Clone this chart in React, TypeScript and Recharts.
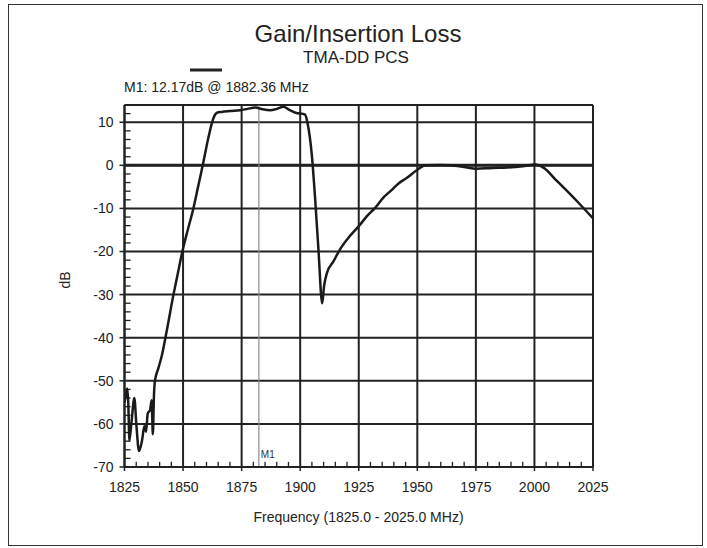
import React from 'react';
import { LineChart, Line, XAxis, YAxis, CartesianGrid, ReferenceLine } from 'recharts';

const freqs = [
  1825.0, 1825.5, 1826.2, 1826.6, 1827.1, 1828.0, 1829.2, 1830.1, 1831.2, 1832.5,
  1833.5, 1834.2, 1834.9, 1835.9, 1836.6, 1837.1, 1837.6, 1838.0, 1839.5, 1841.0,
  1843.0, 1845.9, 1847.8, 1849.7, 1852.0, 1854.4, 1856.4, 1858.4, 1860.8, 1863.0,
  1864.5, 1866.5, 1870.0, 1874.4, 1877.5, 1880.8, 1884.0, 1887.2, 1890.0, 1892.9,
  1895.0, 1898.0, 1902.0, 1903.1, 1905.0, 1906.4, 1907.8, 1909.4, 1910.2, 1911.4,
  1914.2, 1917.0, 1921.4, 1925.2, 1928.5, 1932.1, 1935.5, 1938.5, 1942.0, 1945.6,
  1950.3, 1953.4, 1960.0, 1964.0, 1970.0, 1975.2, 1982.0, 1988.4, 1995.0, 2000.4,
  2004.0, 2009.0, 2014.0, 2019.0, 2025.0,
];

const gains = [
  -55.0, -53.5, -51.8, -55.0, -63.8, -59.5, -54.0, -60.5, -66.3, -63.8,
  -60.5, -61.8, -57.6, -56.8, -54.5, -62.4, -53.0, -50.0, -47.0, -44.0,
  -38.5, -30.0, -25.0, -20.0, -15.0, -10.0, -5.0, 0.0, 6.4, 11.0,
  12.2, 12.4, 12.6, 12.8, 13.1, 13.4, 13.0, 12.8, 13.1, 13.6,
  13.0, 12.2, 11.8, 9.9, 2.2, -7.9, -19.6, -32.0, -28.0, -25.0,
  -22.3, -19.5, -16.3, -14.0, -11.8, -9.8, -7.5, -6.0, -4.2, -2.9,
  -0.9, 0.0, 0.1, 0.0, -0.4, -0.8, -0.6, -0.5, -0.2, 0.2,
  -0.6, -3.3, -6.0, -8.8, -12.3,
];

const xTicks = [1825, 1850, 1875, 1900, 1925, 1950, 1975, 2000, 2025];
const yTicks = [-70, -60, -50, -40, -30, -20, -10, 0, 10];
const xMinor = [1830, 1835, 1840, 1845, 1855, 1860, 1865, 1870, 1880, 1885, 1890, 1895, 1905, 1910, 1915, 1920, 1930, 1935, 1940, 1945, 1955, 1960, 1965, 1970, 1980, 1985, 1990, 1995, 2005, 2010, 2015, 2020];
const yMinor = [-68, -66, -64, -62, -58, -56, -54, -52, -48, -46, -44, -42, -38, -36, -34, -32, -28, -26, -24, -22, -18, -16, -14, -12, -8, -6, -4, -2, 2, 4, 6, 8, 12];

const xDomain = [1825, 2025];
const yDomain = [-70, 14];
const markerFreq = 1882.36;

const data = freqs.map((f, i) => ({ f, g: gains[i] }));

const INK = '#222';
const FONT = '"Liberation Sans", Arial, Helvetica, sans-serif';

export default function App() {
  return (
    <div style={{ position: 'absolute', left: 0, top: 0, width: 707, height: 548, background: '#fff', fontFamily: FONT }}>
      <div style={{ position: 'absolute', left: 8, top: 4, width: 695, height: 542, border: '1.5px solid #333', boxSizing: 'border-box' }} />
      <LineChart
        width={707}
        height={548}
        data={data}
        margin={{ top: 105, right: 114, bottom: 51, left: 64.5 }}
        style={{ position: 'absolute', left: 0, top: 0 }}
      >
        <CartesianGrid stroke={INK} strokeWidth={2} />
        <XAxis
          dataKey="f"
          type="number"
          domain={xDomain}
          ticks={xTicks}
          allowDataOverflow
          height={30}
          tickSize={4}
          tickMargin={11}
          interval={0}
          axisLine={{ stroke: INK, strokeWidth: 2 }}
          tickLine={{ stroke: INK, strokeWidth: 1.5 }}
          tick={{ fontSize: 14, fill: INK, fontFamily: FONT }}
        />
        <YAxis
          type="number"
          domain={yDomain}
          ticks={yTicks}
          allowDataOverflow
          width={60}
          tickSize={5}
          tickMargin={6}
          interval={0}
          axisLine={{ stroke: INK, strokeWidth: 2 }}
          tickLine={{ stroke: INK, strokeWidth: 1.5 }}
          tick={{ fontSize: 14, fill: INK, fontFamily: FONT }}
        />
        {xMinor.map((v) => (
          <ReferenceLine
            key={'xm' + v}
            segment={[{ x: v, y: -70 }, { x: v, y: -68.8 }]}
            stroke={INK}
            strokeWidth={1.3}
          />
        ))}
        {yMinor.map((v) => (
          <ReferenceLine
            key={'ym' + v}
            segment={[{ x: 1825, y: v }, { x: 1827.6, y: v }]}
            stroke={INK}
            strokeWidth={1.3}
          />
        ))}
        <ReferenceLine y={14} stroke={INK} strokeWidth={2} />
        <ReferenceLine y={0} stroke={INK} strokeWidth={3} />
        <ReferenceLine
          x={markerFreq}
          stroke="#8a8a8a"
          strokeWidth={1.2}
          label={(props: any) => {
            const vb = props.viewBox || {};
            return (
              <text x={(vb.x || 0) + 2} y={(vb.y || 0) + (vb.height || 0) - 9} fontSize={10} fill="#333" fontFamily={FONT}>
                M1
              </text>
            );
          }}
        />
        <Line
          type="monotone"
          dataKey="g"
          stroke="#1a1a1a"
          strokeWidth={2.5}
          dot={false}
          isAnimationActive={false}
        />
      </LineChart>
      <svg width={707} height={548} style={{ position: 'absolute', left: 0, top: 0, pointerEvents: 'none' }}>
        <text x={358} y={42} textAnchor="middle" fontSize={24} fill={INK} fontFamily={FONT}>Gain/Insertion Loss</text>
        <text x={356} y={63} textAnchor="middle" fontSize={17} fill={INK} fontFamily={FONT}>TMA-DD PCS</text>
        <line x1={190} y1={70} x2={222} y2={70} stroke={INK} strokeWidth={3} />
        <text x={124} y={92} fontSize={14} fill={INK} fontFamily={FONT}>M1: 12.17dB @ 1882.36 MHz</text>
        <text x={358.5} y={521.5} textAnchor="middle" fontSize={14} fill={INK} fontFamily={FONT}>Frequency (1825.0 - 2025.0 MHz)</text>
        <text transform="translate(65,280) rotate(-90)" x={0} y={0} textAnchor="middle" dominantBaseline="central" fontSize={14} fill={INK} fontFamily={FONT}>dB</text>
      </svg>
    </div>
  );
}
